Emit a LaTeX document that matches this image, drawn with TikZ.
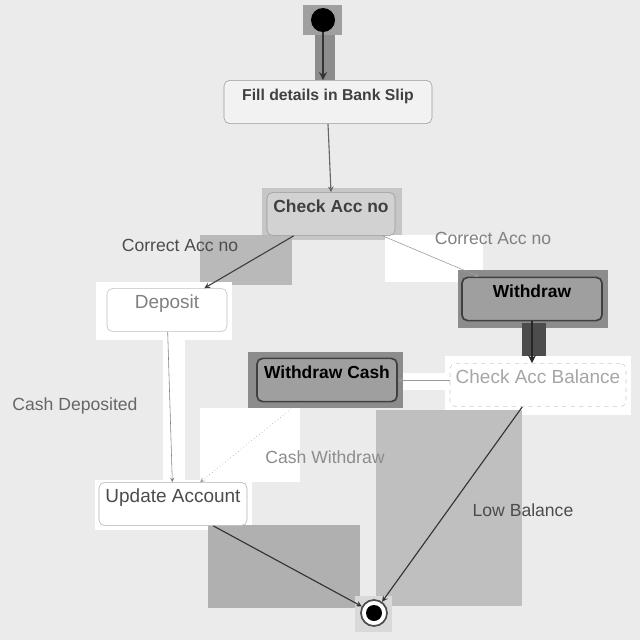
\documentclass[tikz,border=0pt]{standalone}
\usepackage{fontspec}
\setmainfont{Liberation Sans}
\usetikzlibrary{arrows.meta}
\tikzset{>=stealth}
\definecolor{bg}{HTML}{EBEBEB}
\tikzset{
  act/.style = {draw = gray!80, rounded corners = 4, inner ysep = 0pt, text height = 0.49cm, text depth = 0.59cm, font = \fontsize{13.5}{15}\selectfont},
  dark/.style = {act, fill = gray!75, draw = black!75, line width = 1.2pt, font = \fontsize{12.4}{14}\selectfont\bfseries},
  lbl/.style = {font = \fontsize{12.5}{14}\selectfont, text = black!60},
  flow/.style = {->, draw = black!60, thick}
}

\begin{document}
\begin{tikzpicture}[x = 0.025cm, y = -0.025cm]
    \useasboundingbox (0,0) rectangle (640,640);
    \fill [bg] (0,0) rectangle (640,640);
    % patches behind the diagram
    \fill [gray!75] (303,5) rectangle (342,35);
    \fill [gray!90] (315,35) rectangle (335,80);
    \fill [gray!45] (262,188) rectangle (402,240);
    \fill [gray!55] (200,235) rectangle (292,285);
    \fill [white] (385,235) rectangle (483,282);
    \fill [white] (96,282) rectangle (232,340);
    \fill [white] (163,340) rectangle (185,480);
    \fill [gray!90] (458,270) rectangle (608,328);
    \fill [black!70] (522,323) rectangle (546,357);
    \fill [white] (445,356) rectangle (631,415);
    \fill [white] (398,373) rectangle (450,390);
    \fill [gray!90] (248,352) rectangle (403,408);
    \fill [white] (200,408) rectangle (300,482);
    \fill [gray!50] (376,410) rectangle (522,606);
    \fill [white] (95,480) rectangle (252,530);
    \fill [gray!62] (208,525) rectangle (360,608);
    \fill [gray!30] (355,596) rectangle (392,632);

    \node [circle, fill = black, minimum size = 0.6cm] (start) at (323,20) {};
    \node [act, fill = gray!10, font = \fontsize{11.2}{13}\selectfont\bfseries, text = black!75, minimum width = 5.2cm] (fill) at (328,102) {Fill details in Bank Slip};
    \node [act, fill = gray!35, font = \fontsize{12.4}{14}\selectfont\bfseries, text = black!75, minimum width = 3.2cm] (check) at (331,214) {Check Acc no};
    \node [act, fill = white, draw = gray!50, text = black!50, minimum width = 3cm] (deposit) at (167,310) {Deposit};
    \node [dark, minimum width = 3.5cm] (withdraw) at (532,299) {Withdraw};
    \node [act, fill = white, draw = gray!40, dashed, text = black!35, minimum width = 4.4cm] (checkbal) at (538,385) {Check Acc Balance};
    \node [dark, minimum width = 3.5cm] (wcash) at (327,380) {Withdraw Cash};
    \node [act, fill = white, draw = gray!60, text = black!70, minimum width = 3.7cm] (update) at (173,504) {Update Account};
    \node [circle, draw = black!70, line width = 1.2pt, fill = white, minimum size = 0.65cm,
           path picture = {\fill [black] (path picture bounding box.center) circle (0.2cm);}] (end) at (374,613) {};

    \draw [flow, draw = black!80, line width = 1.5pt] (start.south) -- (start.south |- fill.north);
    \draw [flow] (fill.south) -- (check.north);
    \draw [flow, draw = black!75] (check) -- (deposit);
    \node [lbl, text = black!70] (lcorl) at (180,245) {Correct Acc no};
    \draw [->, draw = black!40] (check) -- (withdraw);
    \node [lbl, text = black!50] (lcorr) at (493,238) {Correct Acc no};
    \draw [->, draw = black!50] (deposit) -- (update);
    \node [lbl] (ldep) at (75,406) {Cash Deposited};
    \draw [flow, draw = black!85, line width = 1.5pt] (withdraw.south) -- (withdraw.south |- checkbal.north);
    \draw [->, draw = black!40] (checkbal.west |- wcash.east) -- (wcash.east);
    \draw [->, draw = black!40, dotted] (wcash) -- (update);
    \node [lbl, text = black!45] (lcash) at (325,457) {Cash Withdraw};
    \draw [flow, draw = black!80] (update) -- (end);
    \draw [flow, draw = black!80] (checkbal) -- (end);
    \node [lbl, text = black!70] (llow) at (523,510) {Low Balance};
\end{tikzpicture}
\end{document}
